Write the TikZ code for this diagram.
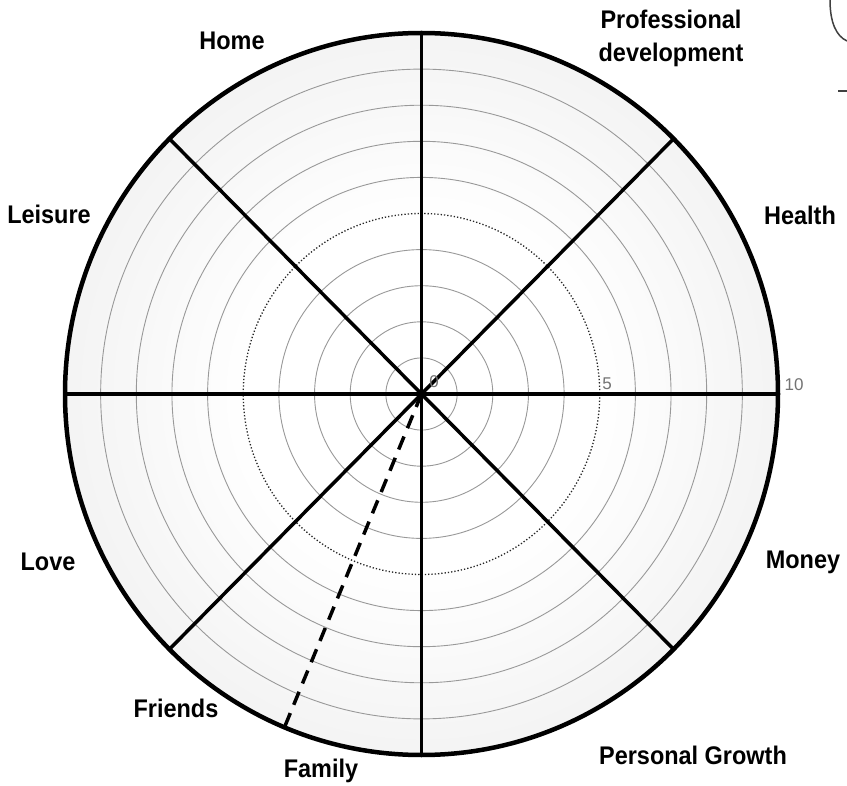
\documentclass[tikz,border=0pt]{standalone}
\usepackage{fontspec}
\newfontfamily\labfont{Liberation Sans}[FakeStretch=0.92]
\newfontfamily\numfont{Liberation Sans}
\pgfdeclareradialshading{wheelshade}{\pgfpoint{0bp}{0bp}}{color(0bp)=(white); color(12bp)=(white); color(38bp)=(white!91!black); color(50bp)=(white!91!black)}
\tikzset{
  lab/.style={font=\labfont\bfseries\fontsize{25.5}{33}\selectfont, align=center, inner sep=0pt},
  num/.style={font=\numfont\fontsize{17}{17}\selectfont, text=black!55, inner sep=0pt},
  ring/.style={draw=black!40, line width=0.9pt},
  midring/.style={draw=black!85, line width=1.3pt, dotted},
  spoke/.style={draw=black, line width=3.5pt},
  rim/.style={draw=black, line width=4.5pt},
  famline/.style={draw=black, line width=3.5pt, dash pattern=on 14pt off 9pt},
}
\begin{document}
\begin{tikzpicture}[x=1pt,y=-1pt]
\useasboundingbox (0,0) rectangle (847,786);
\fill[white] (0,0) rectangle (847,786);
\coordinate (c) at (421.5,394);
% shaded disc
\shade[shading=wheelshade] (c) ellipse [x radius=356.5, y radius=361];
% rings
\foreach \k in {1,2,3,4,6,7,8,9}{
  \draw[ring] (c) ellipse [x radius={35.65*\k}, y radius={36.1*\k}];
}
\draw[midring] (c) ellipse [x radius={35.65*5}, y radius={36.1*5}];
% spokes
\foreach \i in {0,...,7}{
  \path (c) ++ ({356.5*cos(45*\i)},{-361*sin(45*\i)}) coordinate (s\i);
  \draw[spoke] (c) -- (s\i);
}
% rim
\draw[rim] (c) ellipse [x radius=356.5, y radius=361];
% dashed family line
\coordinate (fe) at (285,726);
\draw[famline] (c) -- (fe);
% scale numbers
\node[num] (n0) at (434,382) {0};
\node[num] (n5) at (607,384) {5};
\node[num] (n10) at (794,385) {10};
% labels
\node[lab] (home) at (232,41) {Home};
\node[lab] (prof) at (671,38) {Professional\\development};
\node[lab] (health) at (800,215) {Health};
\node[lab] (leisure) at (49,214) {Leisure};
\node[lab] (love) at (48,562) {Love};
\node[lab] (money) at (803,562) {Money};
\node[lab] (friends) at (176,708) {Friends};
\node[lab] (family) at (321,771) {Family};
\node[lab] (pgrowth) at (693,755) {Personal Growth};
% cropped artefacts at top right
\draw[black!75, line width=1.5pt] (830,0) .. controls (830,22) and (836,36) .. (847,41);
\draw[black!75, line width=1.5pt] (838,91) -- (847,91);
\end{tikzpicture}
\end{document}
